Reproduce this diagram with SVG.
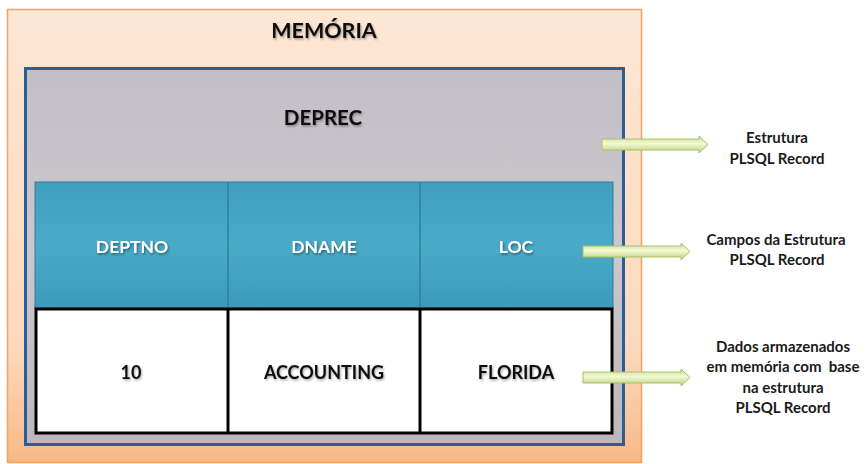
<svg xmlns="http://www.w3.org/2000/svg" width="866" height="464" viewBox="0 0 866 464">
<defs>
<linearGradient id="gOuter" x1="0" y1="0" x2="0" y2="1">
<stop offset="0" stop-color="#fde7d5"/>
<stop offset="0.75" stop-color="#fcd9bd"/>
<stop offset="1" stop-color="#f9b886"/>
</linearGradient>
<linearGradient id="gGray" x1="0" y1="0" x2="0" y2="1">
<stop offset="0" stop-color="#c3bfc6"/>
<stop offset="0.5" stop-color="#cbc7cd"/>
<stop offset="1" stop-color="#bdb8bf"/>
</linearGradient>
<linearGradient id="gTeal" x1="0" y1="0" x2="0" y2="1">
<stop offset="0" stop-color="#3f9fbd"/>
<stop offset="0.5" stop-color="#4aabc8"/>
<stop offset="1" stop-color="#3b9aba"/>
</linearGradient>
<linearGradient id="gArrow" x1="0" y1="0" x2="0" y2="1">
<stop offset="0" stop-color="#c9dc8a"/>
<stop offset="0.45" stop-color="#f3f8d8"/>
<stop offset="1" stop-color="#b8cf6c"/>
</linearGradient>
<filter id="sh" x="-10%" y="-30%" width="120%" height="160%">
<feDropShadow dx="1" dy="1.5" stdDeviation="1" flood-color="#000" flood-opacity="0.35"/>
</filter>
<filter id="shW" x="-10%" y="-30%" width="120%" height="160%">
<feDropShadow dx="1" dy="1.5" stdDeviation="0.8" flood-color="#1a3a48" flood-opacity="0.7"/>
</filter>
</defs>
<style>
text{font-family:Lato,"Open Sans","Liberation Sans",sans-serif;font-weight:bold;text-anchor:middle}
.dk{fill:#111}
.wh{fill:#fff;font-size:17.5px}
.val{font-size:18px}
.lbl{font-size:15px;fill:#1a1a1a}
.pre{white-space:pre}
.arrow{fill:url(#gArrow);stroke:#a9c266;stroke-width:1}
.hdr{fill:url(#gTeal);stroke:#2f7f99;stroke-width:1}
.cell{fill:#fff;stroke:#000;stroke-width:3}
</style>
<g id="memoria">
<rect x="7.5" y="9.5" width="634" height="453" fill="url(#gOuter)" stroke="#f7a05c" stroke-width="1.5"/>
<text x="324" y="38" class="dk" font-size="21.5" filter="url(#sh)">MEMÓRIA</text>
</g>
<g id="deprec">
<rect x="25.5" y="68.5" width="598" height="376" fill="url(#gGray)" stroke="#2d5d95" stroke-width="3"/>
<text x="323" y="125" class="dk" font-size="20.5" filter="url(#sh)">DEPREC</text>
</g>
<g id="header">
<rect x="35" y="182" width="578" height="126" class="hdr"/>
<line x1="228" y1="182" x2="228" y2="308" stroke="#2f7f99" stroke-width="1.5"/>
<line x1="420" y1="182" x2="420" y2="308" stroke="#2f7f99" stroke-width="1.5"/>
<text x="132" y="253" class="wh" filter="url(#shW)">DEPTNO</text>
<text x="324" y="253" class="wh" filter="url(#shW)">DNAME</text>
<text x="516" y="253" class="wh" filter="url(#shW)">LOC</text>
</g>
<g id="values">
<rect x="36" y="309" width="576" height="124" class="cell"/>
<line x1="228" y1="309" x2="228" y2="433" stroke="#000" stroke-width="3"/>
<line x1="420" y1="309" x2="420" y2="433" stroke="#000" stroke-width="3"/>
<text x="131" y="379" class="dk val" filter="url(#sh)">10</text>
<text x="324" y="379" class="dk val" filter="url(#sh)">ACCOUNTING</text>
<text x="516" y="379" class="dk val" filter="url(#sh)">FLORIDA</text>
</g>
<g id="connectors">
<polygon class="arrow" points="602,139 699,139 699,136 708,144.5 699,153 699,150 602,150"/>
<polygon class="arrow" points="583,246 681,246 681,243 690,251.5 681,260 681,257 583,257"/>
<polygon class="arrow" points="583,372 681,372 681,369 690,377.5 681,386 681,383 583,383"/>
</g>
<g id="label-estrutura">
<text x="777" y="142.5" class="lbl">Estrutura</text>
<text x="777" y="163.5" class="lbl">PLSQL Record</text>
</g>
<g id="label-campos">
<text x="776" y="244.5" class="lbl">Campos da Estrutura</text>
<text x="777" y="264.5" class="lbl">PLSQL Record</text>
</g>
<g id="label-dados">
<text x="783" y="351.5" class="lbl">Dados armazenados</text>
<text x="783" y="372" class="lbl pre" xml:space="preserve">em memória com  base</text>
<text x="783" y="392.5" class="lbl">na estrutura</text>
<text x="783" y="413" class="lbl">PLSQL Record</text>
</g>
</svg>
